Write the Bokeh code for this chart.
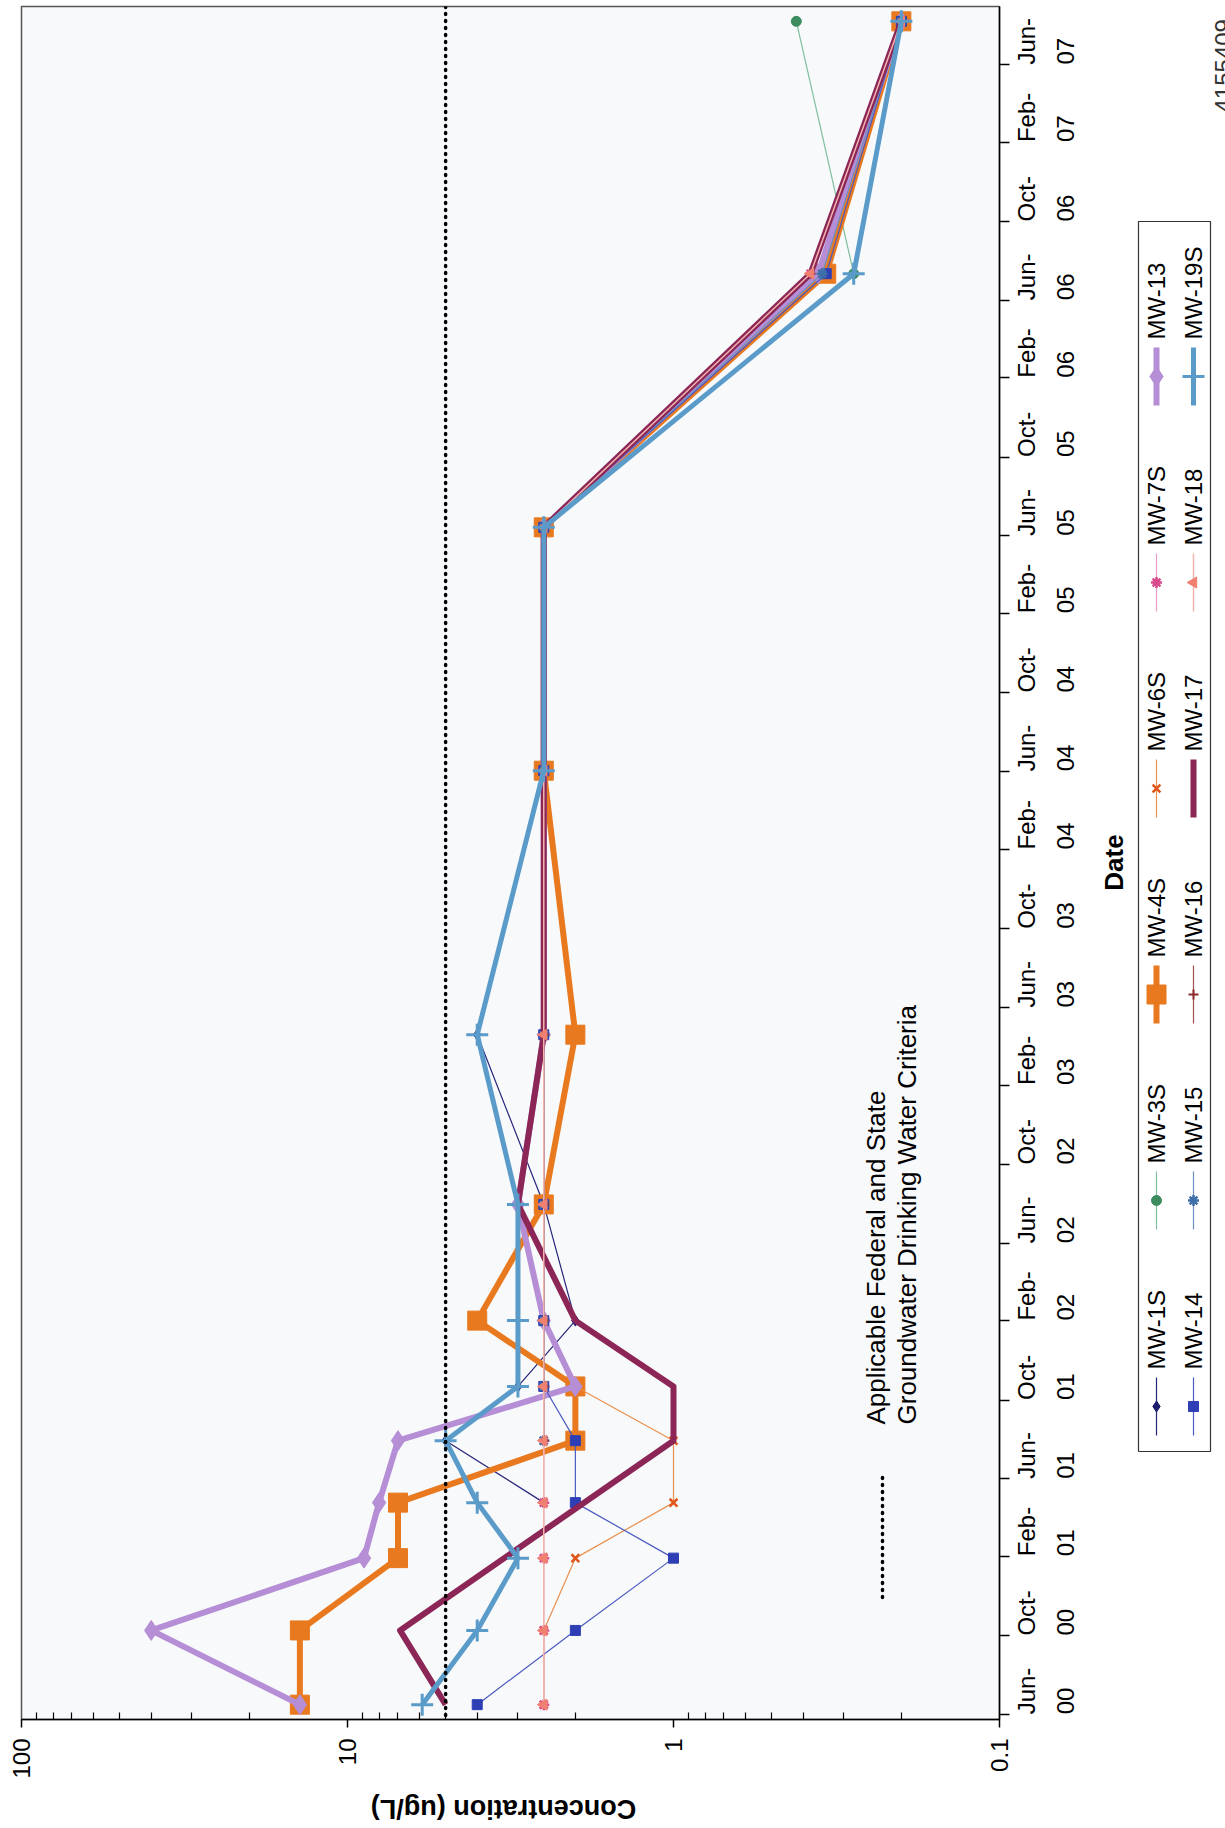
import math
import pandas as pd
from bokeh.plotting import figure
from bokeh.models import Range1d, FixedTicker, LinearAxis, Span
from bokeh.layouts import row, column
from bokeh.embed import file_html
from bokeh.resources import INLINE
from bokeh.core.properties import value

# ---------------- data ----------------
SAMPLE_DATES = ["2000-06-16", "2000-10-09", "2001-01-29", "2001-04-25", "2001-07-30",
                "2001-10-22", "2002-02-01", "2002-07-31", "2003-04-20", "2004-06-02",
                "2005-06-14", "2006-07-12", "2007-08-07"]
N = None
MW_1S = [N, N, N, 2.5, 5.0, 3.0, 2.0, 2.5, 4.0, 2.5, 2.5, 0.35, 0.2]
MW_3S = [N, N, N, N, N, N, N, N, N, N, N, 0.28, 0.42]
MW_4S = [14.0, 14.0, 7.0, 7.0, 2.0, 2.0, 4.0, 2.5, 2.0, 2.5, 2.5, 0.34, 0.2]
MW_6S = [2.5, 2.5, 2.0, 1.0, 1.0, 2.0, 2.5, 2.5, 2.5, 2.5, 2.5, 0.35, 0.2]
MW_7S = [2.5, 2.5, 2.5, 2.5, 2.5, 2.5, 2.5, 2.5, 2.5, 2.5, 2.5, 0.38, 0.2]
MW_13 = [14.0, 40.0, 8.9, 8.0, 7.0, 2.0, 2.5, 3.0, 2.5, 2.5, 2.5, 0.36, 0.2]
MW_14 = [4.0, 2.0, 1.0, 2.0, 2.0, 2.5, 2.5, 2.5, 2.5, 2.5, 2.5, 0.34, 0.2]
MW_15 = [N, N, N, N, 2.5, 2.5, 2.5, 2.5, 2.5, 2.5, 2.5, 0.35, 0.2]
MW_16 = [N, N, N, N, 2.5, 2.5, 2.5, 2.5, 2.5, 2.5, 2.5, 0.38, 0.2]
MW_17 = [5.0, 6.9, N, N, 1.0, 1.0, 2.0, 3.0, 2.5, 2.5, 2.5, 0.38, 0.2]
MW_18 = [2.5, 2.5, 2.5, 2.5, 2.5, 2.5, 2.5, 2.5, 2.5, 2.5, 2.5, 0.38, 0.2]
MW_19S = [5.9, 4.0, 3.0, 4.0, 5.0, 3.0, 3.0, 3.0, 4.0, 2.5, 2.5, 0.28, 0.2]

SERIES_NAMES = ["MW-1S", "MW-3S", "MW-4S", "MW-6S", "MW-7S", "MW-13",
                "MW-14", "MW-15", "MW-16", "MW-17", "MW-18", "MW-19S"]
SERIES_VALUES = [MW_1S, MW_3S, MW_4S, MW_6S, MW_7S, MW_13,
                 MW_14, MW_15, MW_16, MW_17, MW_18, MW_19S]

CRITERIA_UGL = 5.0
CRITERIA_TEXT = ["Applicable Federal and State", "Groundwater Drinking Water Criteria"]

TICK_DATES = ["2000-06-01", "2000-10-01", "2001-02-01", "2001-06-01", "2001-10-01",
              "2002-02-01", "2002-06-01", "2002-10-01", "2003-02-01", "2003-06-01",
              "2003-10-01", "2004-02-01", "2004-06-01", "2004-10-01", "2005-02-01",
              "2005-06-01", "2005-10-01", "2006-02-01", "2006-06-01", "2006-10-01",
              "2007-02-01", "2007-06-01"]
TICK_MONTHS = ["Jun-", "Oct-", "Feb-", "Jun-", "Oct-", "Feb-", "Jun-", "Oct-", "Feb-", "Jun-",
               "Oct-", "Feb-", "Jun-", "Oct-", "Feb-", "Jun-", "Oct-", "Feb-", "Jun-", "Oct-",
               "Feb-", "Jun-"]
TICK_YEARS = ["00", "00", "01", "01", "01", "02", "02", "02", "03", "03", "03", "04", "04",
              "04", "05", "05", "05", "06", "06", "06", "07", "07"]
DATE_MIN, DATE_MAX = "2000-05-24", "2007-08-30"

CONC_MAX, CONC_MIN = 100, 0.1
CONC_TICKS = [0.1, 1, 10, 100]
CONC_TICK_LABELS = ["0.1", "1", "10", "100"]
CONC_MINOR = [m * d for d in (0.1, 1, 10) for m in range(2, 10)]

X_TITLE = "Concentration (ug/L)"
Y_TITLE = "Date"
DOC_ID = "4155409"

# ---------------- styles ----------------
STYLES = {
    "MW-1S":  dict(line="#26267a", lw=1.2, marker="diamond", size=11, fill="#1c1c6e", mline="#1c1c6e"),
    "MW-3S":  dict(line="#7fbf9f", lw=1.2, marker="circle", size=10, fill="#3c8c60", mline="#3c8c60"),
    "MW-4S":  dict(line="#e8791f", lw=6, marker="square", size=19, fill="#e8791f", mline="#e8791f"),
    "MW-6S":  dict(line="#e8904e", lw=1.2, marker="x", size=11, fill="#e0561b", mline="#e0561b", mlw=2.5),
    "MW-7S":  dict(line="#e59ac0", lw=1.2, marker="asterisk", size=11, fill="#d94a8c", mline="#d94a8c", mlw=2.5),
    "MW-13":  dict(line="#b58ed6", lw=6, marker="diamond", size=20, fill="#b58ed6", mline="#b58ed6"),
    "MW-14":  dict(line="#4a5ac0", lw=1.2, marker="square", size=10, fill="#2e3fb5", mline="#2e3fb5"),
    "MW-15":  dict(line="#6a8fc0", lw=1.2, marker="asterisk", size=11, fill="#3d6fa8", mline="#3d6fa8", mlw=2.5),
    "MW-16":  dict(line="#a05050", lw=1.2, marker="cross", size=10, fill="#8b2a2a", mline="#8b2a2a", mlw=2),
    "MW-17":  dict(line="#8b2657", lw=6, marker=None),
    "MW-18":  dict(line="#f4b4ae", lw=1.5, marker="triangle", size=11, fill="#f08070", mline="#f08070", angle=math.pi / 2),
    "MW-19S": dict(line="#5a9bc9", lw=5, marker="cross", size=22, fill="#5a9bc9", mline="#5a9bc9", mlw=3),
}

FONT = "Liberation Sans"
BASE = pd.Timestamp("2000-06-01")

# page layout (pixels)
FRAME_L, FRAME_R, FRAME_T, FRAME_B = 21, 999, 6, 1719
MAIN_W = 1090
MAIN_H = 1781
PAGE_W, PAGE_H = 1225, 1828
STRIP_H = 44


def day(s):
    return (pd.Timestamp(s) - BASE).days


D_MIN, D_MAX = day(DATE_MIN), day(DATE_MAX)


def px_to_conc(px):
    lo, hi = math.log10(CONC_MAX), math.log10(CONC_MIN)
    return 10 ** (lo + (px - FRAME_L) / (FRAME_R - FRAME_L) * (hi - lo))


def py_to_day(py):
    return D_MAX - (py - FRAME_T) / (FRAME_B - FRAME_T) * (D_MAX - D_MIN)


def Y(py):
    # page y (from top) -> data y of the helper panels (from page bottom)
    return PAGE_H - py


sample_days = [day(d) for d in SAMPLE_DATES]
tick_days = [day(d) for d in TICK_DATES]

# ---------------- main figure ----------------
p = figure(frame_width=FRAME_R - FRAME_L, frame_height=FRAME_B - FRAME_T, x_axis_type="log",
           x_range=Range1d(CONC_MAX, CONC_MIN), y_range=Range1d(D_MIN, D_MAX),
           y_axis_location=None, min_border_left=FRAME_L, min_border_right=MAIN_W - FRAME_R,
           min_border_top=FRAME_T, min_border_bottom=MAIN_H - FRAME_B,
           toolbar_location=None, output_backend="svg",
           background_fill_color="#f8f9fb", border_fill_color="white",
           outline_line_color="#555555", outline_line_width=1.5)
p.xgrid.visible = False
p.ygrid.visible = False

xa = p.xaxis[0]
xa.ticker = FixedTicker(ticks=CONC_TICKS, minor_ticks=CONC_MINOR)
xa.major_label_overrides = {t: l for t, l in zip(CONC_TICKS, CONC_TICK_LABELS)}
xa.major_label_orientation = math.pi / 2
xa.major_label_text_font = FONT
xa.major_label_text_font_size = "24px"
xa.major_label_text_color = "black"
xa.major_label_standoff = 11
xa.axis_line_color = "black"
xa.axis_line_width = 1.5
xa.major_tick_out = 8
xa.major_tick_in = 0
xa.major_tick_line_color = "black"
xa.major_tick_line_width = 1.5
xa.minor_tick_in = 7
xa.minor_tick_out = 0
xa.minor_tick_line_color = "black"
xa.minor_tick_line_width = 1.2

ax1 = LinearAxis(ticker=FixedTicker(ticks=tick_days),
                 major_label_overrides={d: m for d, m in zip(tick_days, TICK_MONTHS)})
ax2 = LinearAxis(ticker=FixedTicker(ticks=tick_days),
                 major_label_overrides={d: y for d, y in zip(tick_days, TICK_YEARS)})
for ax in (ax1, ax2):
    ax.major_label_orientation = math.pi / 2
    ax.major_label_text_font = FONT
    ax.major_label_text_font_size = "24px"
    ax.major_label_text_color = "black"
    ax.minor_tick_line_color = None
ax1.axis_line_color = "black"
ax1.axis_line_width = 1.5
ax1.major_tick_out = 10
ax1.major_tick_in = 0
ax1.major_tick_line_color = "black"
ax1.major_tick_line_width = 1.5
ax1.major_label_standoff = 17
ax2.axis_line_color = None
ax2.major_tick_line_color = None
ax2.major_tick_out = 0
ax2.major_tick_in = 0
ax2.major_label_standoff = 9
p.add_layout(ax1, "right")
p.add_layout(ax2, "right")

# criteria line
p.add_layout(Span(location=CRITERIA_UGL, dimension="height", line_color="black",
                  line_width=3.5, line_dash="1 6", line_cap="round"))

# series
for name, vals in zip(SERIES_NAMES, SERIES_VALUES):
    st = STYLES[name]
    xs = [v for v in vals if v is not None]
    ys = [d for d, v in zip(sample_days, vals) if v is not None]
    p.line(xs, ys, line_color=st["line"], line_width=st["lw"], line_join="round")
    if st["marker"]:
        p.scatter(xs, ys, marker=st["marker"], size=st["size"], fill_color=st["fill"],
                  line_color=st["mline"], line_width=st.get("mlw", 1),
                  angle=st.get("angle", 0))

# criteria annotation (key sample + text)
p.line([px_to_conc(882)] * 2, [py_to_day(1597), py_to_day(1474)],
       line_color="black", line_width=3.5, line_dash="1 6", line_cap="round")
for tx, tt in zip((875, 906), CRITERIA_TEXT):
    p.text(x=[px_to_conc(tx)], y=[py_to_day(1424)], text=[tt], angle=math.pi / 2,
           text_align="left", text_baseline="middle", text_font=value(FONT),
           text_font_size="26px", text_color="black")

# ---------------- right panel: date title + legend (coords = page pixels) ----------------
lg = figure(frame_width=PAGE_W - MAIN_W, frame_height=FRAME_B - FRAME_T,
            x_range=Range1d(MAIN_W, PAGE_W), y_range=Range1d(Y(FRAME_B), Y(FRAME_T)),
            x_axis_location=None, y_axis_location=None, min_border_left=0, min_border_right=0,
            min_border_top=FRAME_T, min_border_bottom=MAIN_H - FRAME_B,
            toolbar_location=None, output_backend="svg", outline_line_color=None,
            border_fill_color="white", background_fill_color="white")
lg.xgrid.visible = False
lg.ygrid.visible = False

lg.text(x=[1113], y=[Y(862)], text=[Y_TITLE], angle=math.pi / 2, text_align="center",
        text_baseline="middle", text_font=value(FONT), text_font_style="bold",
        text_font_size="26px", text_color="black")

lg.quad(left=[1138], right=[1210], top=[Y(221)], bottom=[Y(1451)],
        fill_color="white", line_color="#333333", line_width=1.2)

col_x = [1156, 1193]
entry_y = [1406, 1200, 994, 788, 582, 376]
for i, name in enumerate(SERIES_NAMES):
    st = STYLES[name]
    cx = col_x[i // 6]
    cy = entry_y[i % 6]
    lg.line([cx, cx], [Y(cy + 29), Y(cy - 29)], line_color=st["line"], line_width=st["lw"])
    if st["marker"]:
        lg.scatter([cx], [Y(cy)], marker=st["marker"], size=st["size"], fill_color=st["fill"],
                   line_color=st["mline"], line_width=st.get("mlw", 1), angle=st.get("angle", 0))
    lg.text(x=[cx], y=[Y(cy - 37)], text=[name], angle=math.pi / 2, text_align="left",
            text_baseline="middle", text_font=value(FONT), text_font_size="24px",
            text_color="black")

lg.text(x=[1214], y=[Y(112)], text=[DOC_ID], angle=math.pi / 2, text_align="left",
        text_baseline="top", text_font=value(FONT), text_font_size="24px", text_color="#333333")

# ---------------- bottom strip: concentration title (coords = page pixels) ----------------
st_fig = figure(frame_width=PAGE_W, frame_height=STRIP_H,
                x_range=Range1d(0, PAGE_W), y_range=Range1d(Y(MAIN_H + STRIP_H), Y(MAIN_H)),
                x_axis_location=None, y_axis_location=None, min_border=0,
                toolbar_location=None, output_backend="svg", outline_line_color=None,
                border_fill_color="white", background_fill_color="white")
st_fig.xgrid.visible = False
st_fig.ygrid.visible = False
st_fig.text(x=[503], y=[Y(1808)], text=[X_TITLE], angle=math.pi, text_align="center",
            text_baseline="middle", text_font=value(FONT), text_font_style="bold",
            text_font_size="27px", text_color="black")

layout = column(row(p, lg), st_fig)
open("out.html", "w").write(file_html(layout, INLINE))
